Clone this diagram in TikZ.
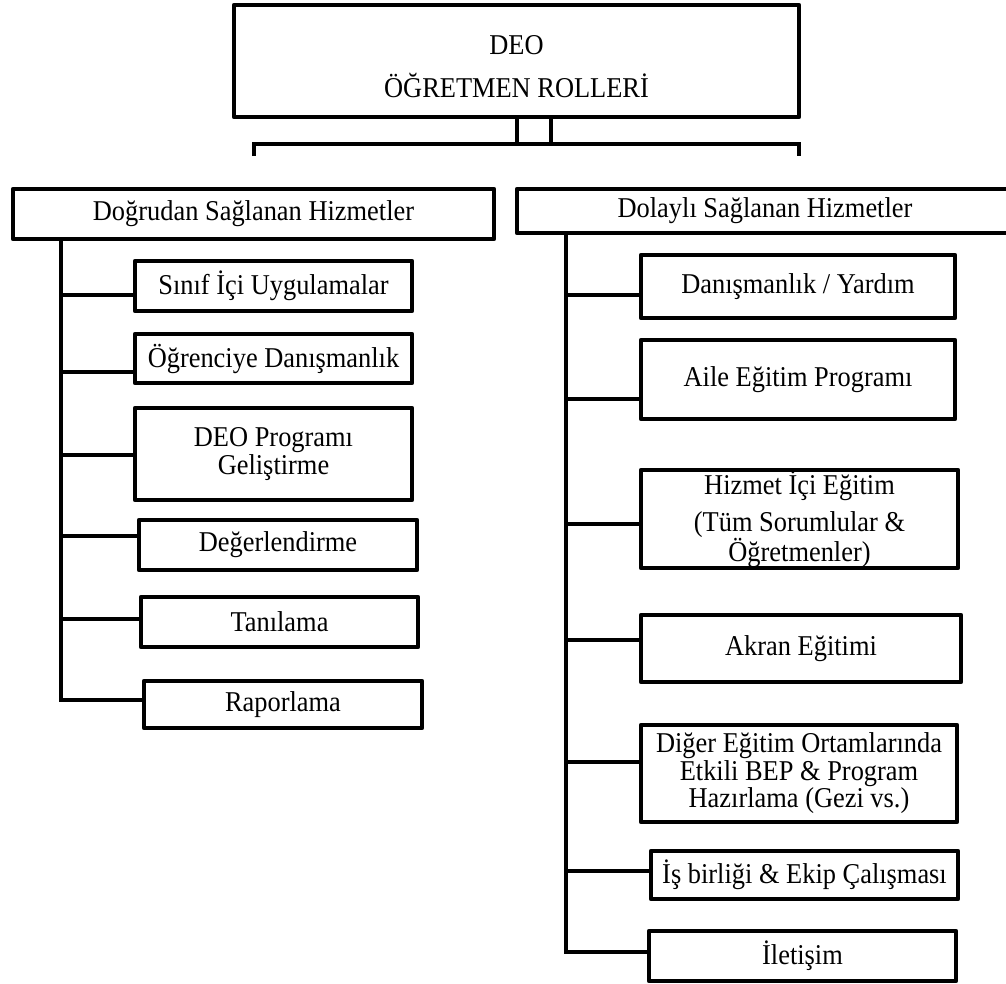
\documentclass[tikz,border=0pt]{standalone}
\usepackage{fontspec}
\setmainfont{Liberation Serif}[FakeStretch=0.92]
\begin{document}
\begin{tikzpicture}[x=1pt,y=-1pt,
  wire/.style={line width=4.8pt, line join=miter},
  lbl/.style={font=\fontsize{28.7}{27.5}\selectfont, align=center},
  box/.style={lbl, draw, line width=4.8pt, line join=round, rectangle, inner sep=0pt},
]
\useasboundingbox[fill=white] (0,0) rectangle (1006,983);

% root
\node[box, minimum width=565pt, minimum height=112pt] (root) at (516.5,61) {};
\node[lbl, inner sep=0pt] (roottext) at (516.5,67)
  {DEO\\[15.5pt]ÖĞRETMEN ROLLERİ};

% two branch groups
\node[box, minimum width=481pt, minimum height=50pt] (dir) at (253.5,214) {Doğrudan Sağlanan Hizmetler};
\node[box, minimum width=496pt, minimum height=44pt] (ind) at (765,211) {Dolaylı Sağlanan Hizmetler};

% direct services
\node[box, minimum width=277pt, minimum height=50pt] (d1) at (273.5,286) {Sınıf İçi Uygulamalar};
\node[box, minimum width=277pt, minimum height=49pt] (d2) at (273.5,358.5) {Öğrenciye Danışmanlık};
\node[box, minimum width=277pt, minimum height=92pt] (d3) at (273.5,454) {DEO Programı\\Geliştirme};
\node[box, minimum width=278pt, minimum height=50pt] (d4) at (278,545) {Değerlendirme};
\node[box, minimum width=277pt, minimum height=50pt] (d5) at (279.5,622) {Tanılama};
\node[box, minimum width=278pt, minimum height=47pt] (d6) at (283,704.5) {Raporlama};

% indirect services
\node[box, minimum width=314pt, minimum height=63pt] (i1) at (798,286.5) {Danışmanlık / Yardım};
\node[box, minimum width=314pt, minimum height=79pt] (i2) at (798,379.5) {Aile Eğitim Programı};
\node[box, minimum width=317pt, minimum height=98pt] (i3) at (799.5,519)
  {Hizmet İçi Eğitim\\[9.5pt](Tüm Sorumlular \&\\Öğretmenler)};
\node[box, minimum width=320pt, minimum height=67pt] (i4) at (801,648.5) {Akran Eğitimi};
\node[box, minimum width=316pt, minimum height=97pt] (i5) at (799,773.5)
  {Diğer Eğitim Ortamlarında\\Etkili BEP \& Program\\Hazırlama (Gezi vs.)};
\node[box, minimum width=307pt, minimum height=48pt] (i6) at (804.5,875) {İş birliği \& Ekip Çalışması};
\node[box, minimum width=307pt, minimum height=50pt] (i7) at (802.5,956) {İletişim};

% root connectors and bracket
\coordinate (s1) at (517,144);
\coordinate (s2) at (551,144);
\coordinate (bl) at (254,156);
\coordinate (br) at (799,156);
\draw[wire] (root.south -| s1) -- (s1);
\draw[wire] (root.south -| s2) -- (s2);
\draw[wire] (bl) |- (br |- s1) -- (br);

% direct trunk
\coordinate (lt) at (61,700);
\draw[wire] (dir.south -| lt) -- (lt) -- (d6.west |- lt);
\foreach \n/\y in {d1/295, d2/372, d3/455, d4/536, d5/619}
  \draw[wire] (61,\y) -- (\n.west |- 0,\y);

% indirect trunk
\coordinate (rt) at (566,952);
\draw[wire] (ind.south -| rt) -- (rt) -- (i7.west |- rt);
\foreach \n/\y in {i1/295, i2/399, i3/524, i4/640, i5/762, i6/871}
  \draw[wire] (566,\y) -- (\n.west |- 0,\y);
\end{tikzpicture}
\end{document}
